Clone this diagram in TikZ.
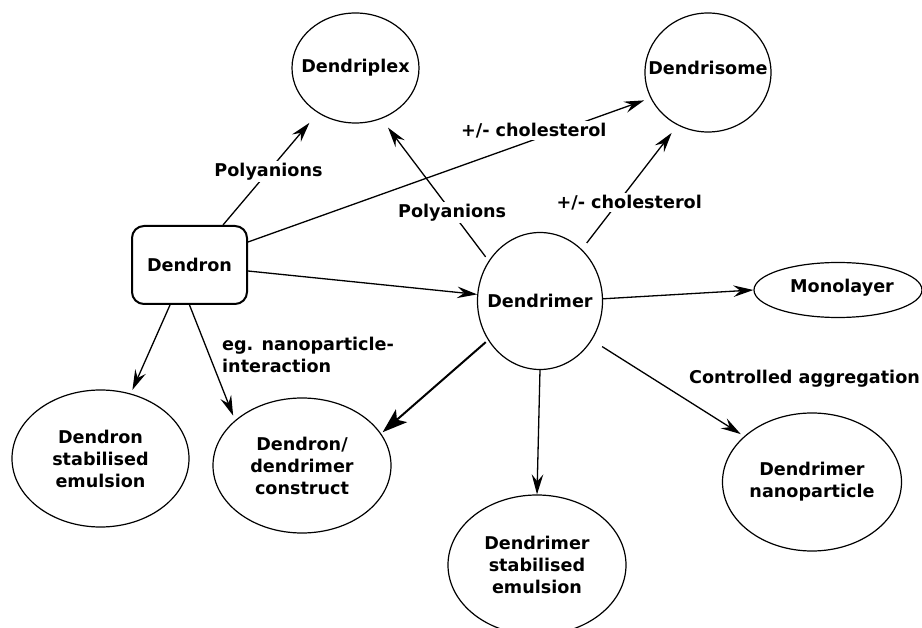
\documentclass[tikz,border=0pt]{standalone}
\usepackage{fontspec}
\setmainfont{DejaVu Sans}
\usetikzlibrary{shapes.geometric,arrows.meta}
\begin{document}
\begin{tikzpicture}[x=1pt,y=-1pt,
  txt/.style={font=\fontsize{17.6pt}{22pt}\selectfont\bfseries, align=center},
  ell/.style={draw, ellipse, line width=1.2pt, inner sep=0pt},
  lab/.style={txt, fill=white, inner sep=2pt},
  conn/.style={line width=1.3pt, -{Stealth[length=20pt,width=11.5pt,inset=7pt]}},
  connthick/.style={line width=2pt, -{Stealth[length=25pt,width=17pt,inset=6pt]}}]
\useasboundingbox (0,0) rectangle (922,628);

% nodes
\node[ell, minimum width=127pt, minimum height=110pt, label={[txt]center:Dendriplex}] (dp) at (355.5,68) {};
\node[ell, minimum width=126pt, minimum height=119pt, label={[txt,yshift=4.5pt]center:Dendrisome}] (ds) at (708,72.5) {};
\node[draw, rounded corners=12pt, line width=2pt, minimum width=115pt, minimum height=78pt, txt] (dn) at (189.5,265) {Dendron};
\node[ell, minimum width=125pt, minimum height=137pt, label={[txt]center:Dendrimer}] (dm) at (540,301) {};
\node[ell, minimum width=168pt, minimum height=55pt, label={[txt,xshift=4pt,yshift=2pt]center:Monolayer}] (ml) at (838,290) {};
\node[ell, minimum width=177pt, minimum height=137pt, label={[txt]center:{Dendron\\stabilised\\emulsion}}] (dse) at (100.5,458.5) {};
\node[ell, minimum width=178pt, minimum height=135pt, label={[txt]center:{Dendron/\\dendrimer\\construct}}] (dc) at (302,465.5) {};
\node[ell, minimum width=178pt, minimum height=140pt, label={[txt]center:{Dendrimer\\stabilised\\emulsion}}] (de) at (537,565) {};
\node[ell, minimum width=179pt, minimum height=138pt, label={[txt]center:{Dendrimer\\nanoparticle}}] (np) at (812,482) {};

% free labels
\node[txt, align=left, anchor=west, inner sep=0pt] (lnano) at (222,355) {eg. nanoparticle-\\interaction};
\node[txt, anchor=west, inner sep=0pt] (lagg) at (689,379) {Controlled aggregation};

% connectors
\draw[conn, shorten >=13pt] ([xshift=33.5pt]dn.north) -- node[lab,pos=0.48]{Polyanions} (dp.230.5);
\draw[conn, shorten <=5pt, shorten >=11pt] (dm.142) -- node[lab,pos=0.34]{Polyanions} (dp.297.4);
\draw[conn, shorten >=6.7pt] ([yshift=23pt]dn.east) -- node[lab,pos=0.71,yshift=9pt]{+/- cholesterol} (ds.204.4);
\draw[conn, shorten <=8pt, shorten >=9.7pt] (dm.51) -- node[lab,pos=0.38,xshift=11pt]{+/- cholesterol} (ds.240.9);
\draw[conn] ([yshift=-6pt]dn.east) -- (dm.174.5);
\draw[conn] (dm.2.7) -- (ml.west);
\draw[conn, shorten <=12pt, shorten >=4pt] (dm.323) -- (np.146.9);
\draw[conn] (dm.south) -- (de.north);
\draw[connthick, shorten <=3pt, shorten >=2pt] (dm.217.2) -- (dc.22.7);
\draw[conn, shorten >=4pt] ([xshift=-19.5pt]dn.south) -- (dse.65.3);
\draw[conn, shorten >=5pt] (dn.south) -- (dc.146.6);
\end{tikzpicture}
\end{document}
